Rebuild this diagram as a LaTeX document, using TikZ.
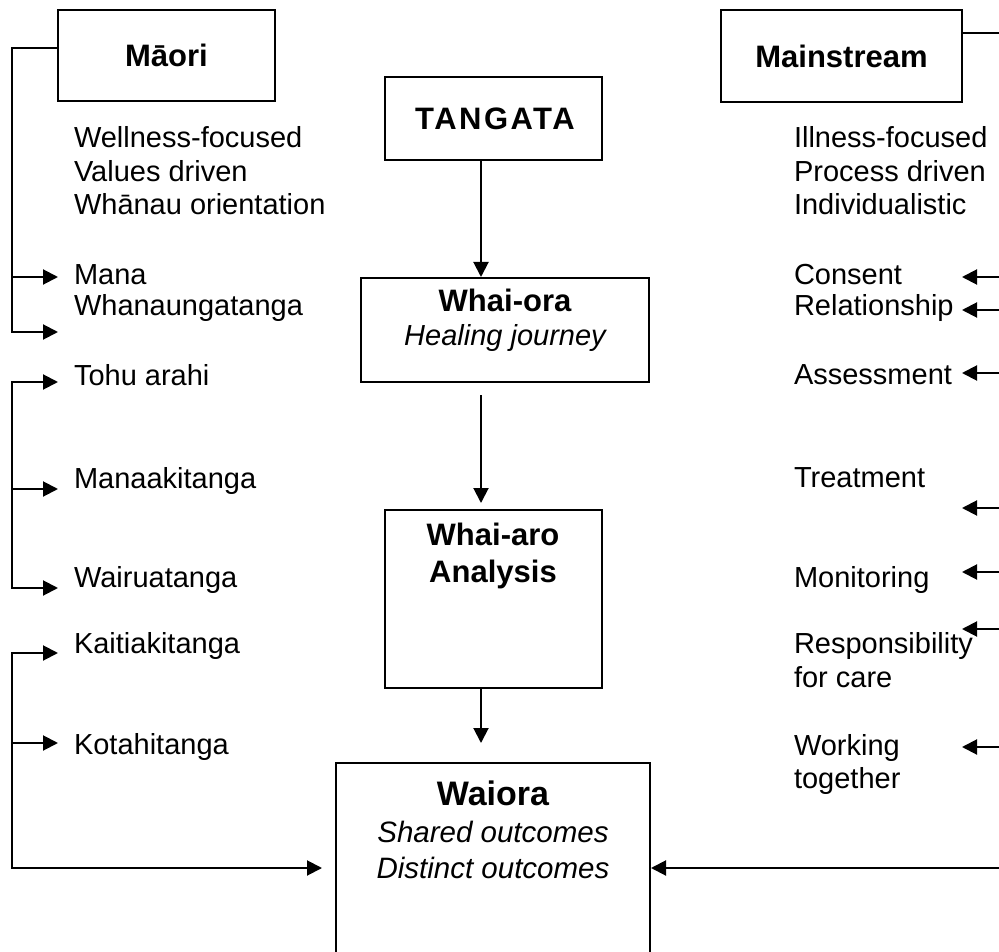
\documentclass[tikz,border=0pt]{standalone}
\usepackage{fontspec}
\setmainfont{Liberation Sans}
\usetikzlibrary{arrows.meta}
\begin{document}
\begin{tikzpicture}[x=1pt,y=-1pt,line width=2pt,
  box/.style={draw,line width=2pt,inner sep=0pt},
  txt/.style={anchor=base west,inner sep=0pt,font=\fontsize{29}{33}\selectfont},
  lbl/.style={anchor=base,inner sep=0pt,font=\fontsize{31}{36}\selectfont\bfseries},
  big/.style={anchor=base,inner sep=0pt,font=\fontsize{34}{38}\selectfont\bfseries},
  itl/.style={anchor=base,inner sep=0pt,font=\fontsize{29.5}{33}\selectfont\itshape},
  tip/.style={Triangle[length=15pt,width=15pt]},
  arr/.style={-{Triangle[length=15pt,width=15pt]}},
  darr/.style={{Triangle[length=15pt,width=15pt]}-{Triangle[length=15pt,width=15pt]}}]
\useasboundingbox (0,0) rectangle (999,952);
\clip (0,0) rectangle (999,952);

% ---------- boxes ----------
\node[box,minimum width=217pt,minimum height=91pt] (maori) at (166.5,55.5) {};
\node[lbl] (maorit) at (166.5,67) {Māori};
\node[box,minimum width=241pt,minimum height=92pt] (mainstream) at (841.5,56) {};
\node[lbl] (mainstreamt) at (841.5,68) {Mainstream};
\node[box,minimum width=217pt,minimum height=83pt] (tangata) at (493.5,118.5) {};
\node[lbl,font=\fontsize{31}{36}\selectfont\bfseries\addfontfeature{LetterSpace=8}] (tangatat) at (495,130) {TANGATA};
\node[box,minimum width=288pt,minimum height=104pt] (whaiora) at (505,330) {};
\node[lbl] (whaiorat) at (505,312) {Whai-ora};
\node[itl,font=\fontsize{29}{33}\selectfont\itshape] (whaiorai) at (505,345) {Healing journey};
\node[box,minimum width=217pt,minimum height=178pt] (whaiaro) at (493.5,599) {};
\node[lbl] (whaiarot) at (493,545) {Whai-aro};
\node[lbl] (whaiaroa) at (493,582) {Analysis};
\node[box,minimum width=314pt,minimum height=260pt] (waiora) at (493,893) {};
\node[big] (waiorat) at (493,805) {Waiora};
\node[itl] (waioras) at (493,842) {Shared outcomes};
\node[itl] (waiorad) at (493,878) {Distinct outcomes};

% ---------- left texts ----------
\node[txt] (wel) at (73,148) {Wellness-focused};
\node[txt] (val) at (73,182) {Values driven};
\node[txt] (wha) at (73,215) {Whānau orientation};
\node[txt] (mana) at (73,284) {Mana};
\node[txt] (whng) at (73,316) {Whanaungatanga};
\node[txt] (tohu) at (73,385) {Tohu arahi};
\node[txt] (manaa) at (73,488) {Manaakitanga};
\node[txt] (wair) at (73,587) {Wairuatanga};
\node[txt] (kait) at (73,653) {Kaitiakitanga};
\node[txt] (kota) at (73,754) {Kotahitanga};

% ---------- right texts ----------
\node[txt] (ill) at (793,148) {Illness-focused};
\node[txt] (pro) at (793,182) {Process driven};
\node[txt] (ind) at (793,215) {Individualistic};
\node[txt] (cons) at (793,284) {Consent};
\node[txt] (rel) at (793,316) {Relationship};
\node[txt] (ass) at (793,384) {Assessment};
\node[txt] (tre) at (793,487) {Treatment};
\node[txt] (mon) at (793,587) {Monitoring};
\node[txt] (resp) at (793,653) {Responsibility};
\node[txt] (forc) at (793,687) {for care};
\node[txt] (work) at (793,755) {Working};
\node[txt] (tog) at (793,788) {together};

% ---------- coordinates ----------
\coordinate (ax) at (481,0);
\coordinate (gapA) at (481,395);
\coordinate (gapB) at (481,503);
\coordinate (tipW) at (481,743);
\coordinate (lA) at (12,48);
\coordinate (lAend) at (12,332);
\coordinate (lAmid) at (12,277);
\coordinate (tMana) at (58,277);
\coordinate (tWhng) at (58,332);
\coordinate (tTohu) at (58,382);
\coordinate (lBend) at (12,588);
\coordinate (lBmid) at (12,489);
\coordinate (tManaa) at (58,489);
\coordinate (tWair) at (58,588);
\coordinate (tKait) at (58,653);
\coordinate (lCend) at (12,868);
\coordinate (lCmid) at (12,743);
\coordinate (tKota) at (58,743);
\coordinate (tWaioraL) at (322,868);
\coordinate (rTop) at (1005,33);
\coordinate (rBot) at (1005,868);

% ---------- centre arrows ----------
\draw[arr] (tangata.south -| ax) -- (whaiora.north -| ax);
\draw[arr] (gapA) -- (gapB);
\draw[arr] (whaiaro.south -| ax) -- (tipW);

% ---------- left connectors ----------
\draw[arr] (maori.west |- lA) -| (lAend) -- (tWhng);
\draw[arr] (lAmid) -- (tMana);
\draw[darr] (tTohu) -| (lBend) -- (tWair);
\draw[arr] (lBmid) -- (tManaa);
\draw[darr] (tKait) -| (lCend) -- (tWaioraL);
\draw[arr] (lCmid) -- (tKota);

% ---------- right connectors ----------
\draw (mainstream.east |- rTop) -- (rTop);
\foreach \yy/\nm in {277/cA,310/rA,373/aA,508/tA,572/mA,629/sA,747/wA}{
  \coordinate (\nm s) at (1005,\yy);
  \coordinate (\nm t) at (962,\yy);
  \draw[arr] (\nm s) -- (\nm t);
}
\draw[arr] (rBot) -- (waiora.east |- rBot);
\end{tikzpicture}
\end{document}
